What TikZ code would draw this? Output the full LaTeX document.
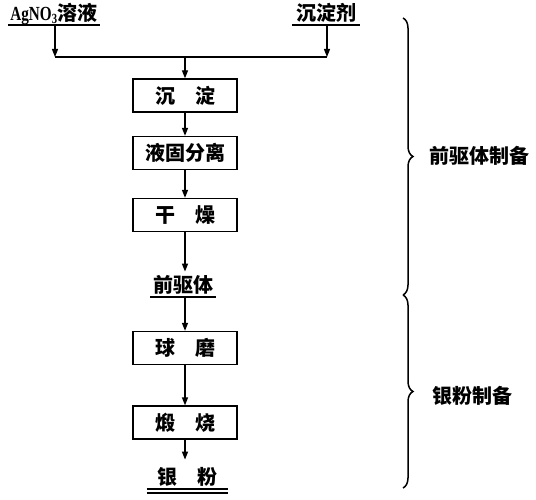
\documentclass[tikz,border=0pt]{standalone}
\usepackage{fontspec}
\setmainfont{Liberation Serif}
\newfontfamily\cjk{Noto Sans CJK SC}
\newfontfamily\latn{Liberation Serif}[FakeStretch=0.76]
\usetikzlibrary{arrows.meta,decorations.pathreplacing,positioning}

\begin{document}
\begin{tikzpicture}[x=1pt,y=-1pt,
    box/.style={draw,line width=1.3pt,minimum width=104pt,minimum height=33pt,
                inner sep=0pt,font=\cjk\bfseries\fontsize{20}{20}\selectfont},
    lbl/.style={inner xsep=0pt,inner ysep=1pt,text height=16pt,text depth=3pt,
                font=\cjk\bfseries\fontsize{20}{20}\selectfont},
    ln/.style={line width=1.3pt},
    arr/.style={-{Triangle[length=8pt,width=6pt]},line width=1.3pt},
    brc/.style={decorate,decoration={brace,amplitude=10pt},line width=1.5pt}]
    \useasboundingbox (0,0) rectangle (536,500);
    % raw materials
    \node[lbl,minimum width=92pt,anchor=south] (agno) at (54,25)
        {{\latn\bfseries\fontsize{20}{20}\selectfont AgNO\textsubscript{3}}溶液};
    \node[lbl,minimum width=68pt,anchor=south] (ppt) at (326,25) {沉淀剂};
    \draw[ln] (agno.south west) -- (agno.south east);
    \draw[ln] (ppt.south west) -- (ppt.south east);
    \coordinate (jl) at (55,57);
    \coordinate (jr) at (327,57);
    \coordinate (jm) at (185,57);
    % process steps
    \node[box] (cd) at (185,95.5) {沉\hspace{1em}淀};
    \node[box] (sep) at (185,153) {液固分离};
    \node[box] (dry) at (185,215) {干\hspace{1em}燥};
    \node[lbl,minimum width=65pt,text height=20pt,anchor=south] (pre) at (183,297) {前驱体};
    \node[box] (ball) at (185,348) {球\hspace{1em}磨};
    \node[box] (calc) at (185,422.5) {煅\hspace{1em}烧};
    \node[lbl,minimum width=81pt,text height=24pt,anchor=south] (ag) at (187.5,489) {银\hspace{1em}粉};
    \draw[ln] (pre.south west) -- (pre.south east);
    \draw[ln] (ag.south west) -- (ag.south east);
    \draw[ln] ([yshift=-4pt]ag.south west) -- ([yshift=-4pt]ag.south east);
    % connectors
    \draw[arr] (agno.south -| jl) -- (jl);
    \draw[arr] (ppt.south -| jr) -- (jr);
    \draw[ln] (jl) -- (jr);
    \draw[arr] (jm) -- (cd.north);
    \draw[arr] (cd) -- (sep);
    \draw[arr] (sep) -- (dry);
    \draw[arr] (dry.south) -- (dry.south |- pre.north);
    \draw[arr] (ball.north |- pre.south) -- (ball.north);
    \draw[arr] (ball) -- (calc);
    \draw[arr] (calc.south) -- (calc.south |- ag.north);
    % stages
    \coordinate (b1t) at (403,18);
    \coordinate (b1b) at (403,295);
    \coordinate (b2b) at (403,488);
    \draw[brc] (b1t) -- (b1b);
    \draw[brc] (b1b) -- (b2b);
    \node[lbl,anchor=west] (st1) at (429,157) {前驱体制备};
    \node[lbl,anchor=west] (st2) at (432,397) {银粉制备};
\end{tikzpicture}
\end{document}
